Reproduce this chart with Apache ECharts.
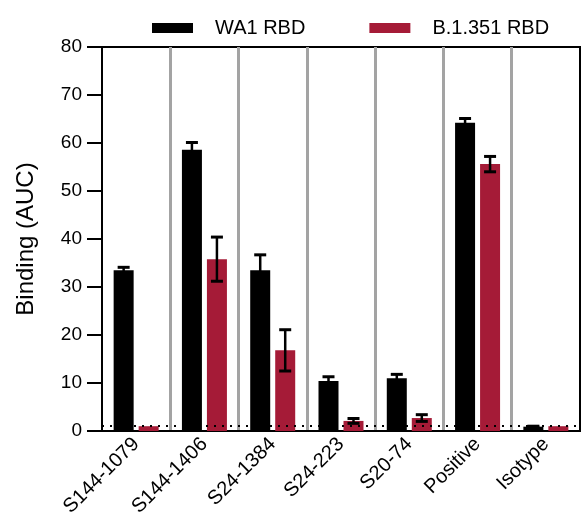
<!DOCTYPE html>
<html>
<head>
<meta charset="utf-8">
<script src="https://cdn.jsdelivr.net/npm/echarts@6/dist/echarts.min.js"></script>
<style>html,body{margin:0;padding:0;background:#fff;}#c{width:582px;height:523px;}</style>
</head>
<body>
<div id="c"></div>
<script>
const categories = ['S144-1079', 'S144-1406', 'S24-1384', 'S24-223', 'S20-74', 'Positive', 'Isotype'];
const wa1 = [33.5, 58.6, 33.5, 10.4, 11.0, 64.2, 0.9];
const wa1Err = [0.6, 1.5, 3.2, 0.9, 0.8, 0.9, 0.1];
const b1351 = [1.0, 35.8, 16.8, 2.1, 2.7, 55.6, 1.0];
const b1351Err = [0, 4.6, 4.3, 0.5, 0.7, 1.6, 0];
const yTicks = [0, 10, 20, 30, 40, 50, 60, 70, 80];
const baseline = 1;

const FONT = 'Liberation Sans, Arial, Helvetica, sans-serif';
const RED = '#a51b37';
const BAR_W = 20;
const BAR_GAP = 5;

function errData(vals, errs) {
  return vals.map((v, i) => [i, v, errs[i]]);
}

function errRender(offset) {
  return function (params, api) {
    const err = api.value(2);
    if (!err) return null;
    const i = api.value(0);
    const v = api.value(1);
    const top = api.coord([i, v + err]);
    const bot = api.coord([i, v - err]);
    const x = top[0] + offset;
    const cap = 6;
    return {
      type: 'group',
      children: [
        { type: 'line', shape: { x1: x, y1: top[1], x2: x, y2: bot[1] }, style: { stroke: '#000', lineWidth: 2.5 } },
        { type: 'line', shape: { x1: x - cap, y1: top[1], x2: x + cap, y2: top[1] }, style: { stroke: '#000', lineWidth: 3 } },
        { type: 'line', shape: { x1: x - cap, y1: bot[1], x2: x + cap, y2: bot[1] }, style: { stroke: '#000', lineWidth: 3 } }
      ]
    };
  };
}

const off = (BAR_W + BAR_GAP) / 2;

const option = {
  animation: false,
  backgroundColor: '#fff',
  textStyle: { fontFamily: FONT },
  legend: {
    left: 147,
    top: 13,
    itemWidth: 41,
    itemHeight: 10,
    itemGap: 64,
    icon: 'rect',
    textStyle: { fontSize: 20, color: '#000', fontFamily: FONT, padding: [0, 0, 0, 17] },
    data: ['WA1 RBD', 'B.1.351 RBD']
  },
  grid: { left: 102, right: 2, top: 47, bottom: 92, containLabel: false,
    show: true, borderColor: '#000', borderWidth: 2, backgroundColor: 'transparent' },
  xAxis: {
    type: 'category',
    data: categories,
    boundaryGap: true,
    axisLine: { show: true, onZero: false, lineStyle: { color: '#000', width: 2 } },
    axisTick: { show: false },
    axisLabel: { rotate: 45, fontSize: 20, color: '#000', margin: 10, fontFamily: FONT, interval: 0 },
    splitLine: { show: true, showMinLine: false, showMaxLine: false, lineStyle: { color: '#a3a3a3', width: 3 } }
  },
  yAxis: {
    type: 'value',
    min: 0,
    max: 80,
    interval: 10,
    name: 'Binding (AUC)',
    nameLocation: 'middle',
    nameGap: 64,
    nameTextStyle: { fontSize: 24, color: '#000', fontFamily: FONT },
    axisLine: { show: true, onZero: false, lineStyle: { color: '#000', width: 2 } },
    axisTick: { show: true, length: 15, lineStyle: { color: '#000', width: 2 } },
    axisLabel: { fontSize: 19, color: '#000', margin: 20, fontFamily: FONT,
      formatter: v => (yTicks.indexOf(v) >= 0 ? String(v) : '') },
    splitLine: { show: false }
  },
  series: [
    {
      name: 'WA1 RBD',
      type: 'bar',
      data: wa1,
      barWidth: BAR_W,
      barGap: (BAR_GAP / BAR_W * 100) + '%',
      itemStyle: { color: '#000' },
      z: 2
    },
    {
      name: 'B.1.351 RBD',
      type: 'bar',
      data: b1351,
      barWidth: BAR_W,
      barGap: (BAR_GAP / BAR_W * 100) + '%',
      itemStyle: { color: RED },
      z: 2
    },
    {
      type: 'custom',
      renderItem: errRender(-off),
      data: errData(wa1, wa1Err),
      z: 5,
      silent: true,
      encode: { x: 0, y: 1 }
    },
    {
      type: 'custom',
      renderItem: errRender(off),
      data: errData(b1351, b1351Err),
      z: 5,
      silent: true,
      encode: { x: 0, y: 1 },
      markLine: {
        silent: true,
        symbol: 'none',
        label: { show: false },
        lineStyle: { color: '#000', width: 2, type: [2, 6] },
        data: [{ yAxis: baseline }]
      }
    }
  ]
};

const chart = echarts.init(document.getElementById('c'), null, { renderer: 'canvas' });
chart.setOption(option);
</script>
</body>
</html>
